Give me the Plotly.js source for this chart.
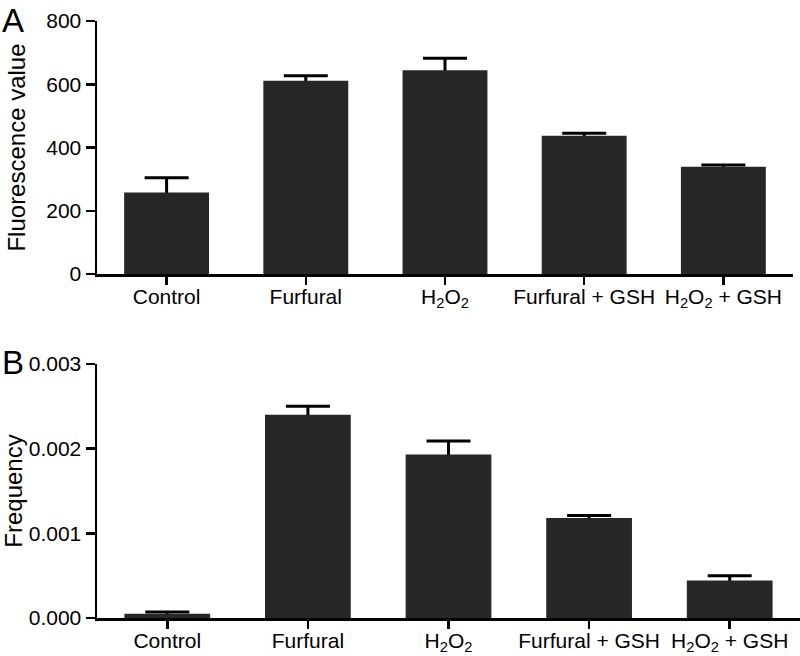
<!DOCTYPE html>
<html><head><meta charset="utf-8">
<script src="https://cdn.plot.ly/plotly-3.0.1.min.js"></script>
<style>body{margin:0;background:#fff}#g{width:800px;height:656px}</style>
</head><body><div id="g"></div>
<script>
var categories = ["Control", "Furfural", "H<sub>2</sub>O<sub>2</sub>", "Furfural + GSH", "H<sub>2</sub>O<sub>2</sub> + GSH"];
var fluorescence = [258, 611, 644, 437, 339];
var fluorescenceErr = [46, 16, 38, 8, 6];
var frequency = [0.00005, 0.0024, 0.00193, 0.00118, 0.000444];
var frequencyErr = [0.00002, 0.0001, 0.00016, 0.00003, 0.000056];
var topTicks = [0, 200, 400, 600, 800];
var bottomTicks = [0, 0.001, 0.002, 0.003];

var barColor = '#272727';
var font = {family: 'Liberation Sans, Arial, sans-serif', size: 21, color: '#000'};
function errBars(vals, errs, xa, ya) {
  // transparent bar carrying symmetric error bars; the solid bar drawn after hides the lower half
  return {type: 'bar', x: categories, y: vals, xaxis: xa, yaxis: ya, width: 0.61,
    marker: {color: 'rgba(0,0,0,0)', line: {width: 0}}, hoverinfo: 'none',
    error_y: {type: 'data', array: errs, color: '#000', thickness: 3, width: 22}};
}
function bars(vals, xa, ya) {
  return {type: 'bar', x: categories, y: vals, xaxis: xa, yaxis: ya, width: 0.61,
    marker: {color: barColor, line: {width: 0}}, hoverinfo: 'none'};
}
var traces = [
  errBars(fluorescence, fluorescenceErr, 'x', 'y'),
  bars(fluorescence, 'x', 'y'),
  errBars(frequency, frequencyErr, 'x2', 'y2'),
  bars(frequency, 'x2', 'y2')
];
var axisCommon = {showline: true, linecolor: '#000', linewidth: 2.5, ticks: 'outside', ticklen: 9, tickwidth: 2.5,
  tickcolor: '#000', showgrid: false, zeroline: false, tickfont: font, automargin: false};
var titleFont = {family: font.family, size: 24, color: '#000'};
var layout = {
  width: 800, height: 656, paper_bgcolor: '#fff', plot_bgcolor: '#fff', showlegend: false, barmode: 'overlay',
  margin: {l: 97, r: 0, t: 21, b: 38}, font: font,
  xaxis: Object.assign({}, axisCommon, {domain: [0, 0.990], anchor: 'y', range: [-0.5, 4.5], type: 'category', ticklen: 8, ticklabelstandoff: -6}),
  yaxis: Object.assign({}, axisCommon, {domain: [0.5762, 1], anchor: 'x', range: [0, 800], tickvals: topTicks,
    title: {text: 'Fluorescence value', font: titleFont, standoff: 14}}),
  xaxis2: Object.assign({}, axisCommon, {domain: [0, 1], anchor: 'y2', range: [-0.5, 4.5], type: 'category', ticklen: 8, ticklabelstandoff: -6}),
  yaxis2: Object.assign({}, axisCommon, {domain: [0, 0.4255], anchor: 'x2', range: [0, 0.003], tickvals: bottomTicks,
    tickformat: '.3f', title: {text: 'Frequency', font: titleFont, standoff: 8}}),
  annotations: [
    {text: 'A', xref: 'paper', yref: 'paper', x: -0.138, y: 1.036, xanchor: 'left', yanchor: 'top', showarrow: false,
     font: {family: font.family, size: 33, color: '#000'}},
    {text: 'B', xref: 'paper', yref: 'paper', x: -0.138, y: 0.463, xanchor: 'left', yanchor: 'top', showarrow: false,
     font: {family: font.family, size: 33, color: '#000'}}
  ]
};
Plotly.newPlot('g', traces, layout, {displayModeBar: false, staticPlot: true});
</script></body></html>
